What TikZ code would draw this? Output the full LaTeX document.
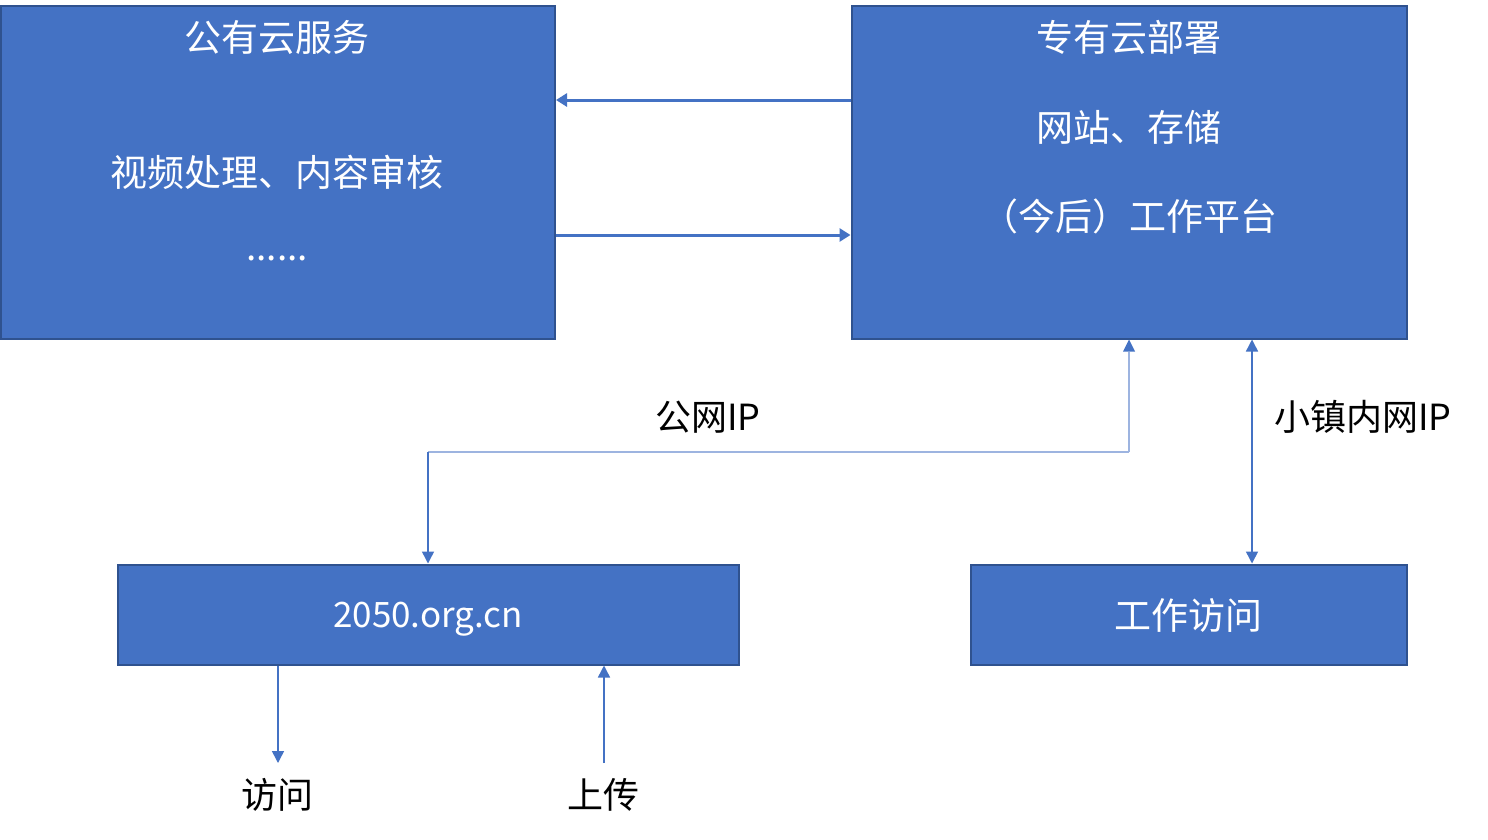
\documentclass[tikz,border=0pt]{standalone}
\usepackage{fontspec}
\setmainfont{Noto Sans CJK SC}
\usetikzlibrary{arrows.meta}
\definecolor{fillblue}{HTML}{4472C4}
\definecolor{edgeblue}{HTML}{2F528F}
\definecolor{lightblue}{HTML}{9DB4E0}
\begin{document}
\begin{tikzpicture}[x=1pt,y=-1pt,
  box/.style={draw=edgeblue, fill=fillblue, line width=2pt, inner sep=0pt},
  boxtext/.style={text=white, font=\fontsize{37}{44}\selectfont, inner sep=0pt},
  lbl/.style={text=black, font=\fontsize{36}{42}\selectfont, inner sep=0pt},
  thick arrow/.style={draw=fillblue, line width=3pt, -{Triangle[length=11pt,width=13pt]}},
  thin arrow/.style={draw=fillblue, line width=1.5pt, -{Triangle[length=12pt,width=12pt]}}
]
\useasboundingbox (0,0) rectangle (1488,839);
\fill[white] (0,0) rectangle (1488,839);

% boxes
\node[box, minimum width=554pt, minimum height=333pt] (A) at (278,172) {};
\node[box, minimum width=555pt, minimum height=333pt] (B) at (1129,172) {};
\node[box, minimum width=621pt, minimum height=100pt] (C) at (428,614.5) {};
\node[box, minimum width=436pt, minimum height=100pt] (D) at (1188.5,614.5) {};

% box texts
\node[boxtext] (At1) at (277,37) {公有云服务};
\node[boxtext] (At2) at (277,172) {视频处理、内容审核};
\node[boxtext] (At3) at (277,258) {......};
\node[boxtext] (Bt1) at (1129,37) {专有云部署};
\node[boxtext] (Bt2) at (1129,127) {网站、存储};
\node[boxtext] (Bt3) at (1129,216) {（今后）工作平台};
\node[boxtext, font=\fontsize{35}{42}\selectfont] (Ct) at (428,619) {2050.org.cn};
\node[boxtext] (Dt) at (1188,616) {工作访问};

% arrows between cloud boxes
\draw[thick arrow] (B.west |- 0,100) -- (A.east |- 0,100);
\draw[thick arrow] (A.east |- 0,235) -- (B.west |- 0,235);

% public IP connector
\coordinate (P1) at (1129,452);
\coordinate (P2) at (428,452);
\draw[draw=lightblue, line width=1.5pt] (P1) -- (P2);
\draw[draw=lightblue, line width=1.5pt] (P1) -- (1129,352);
\draw[draw=fillblue, line width=1.5pt, -{Triangle[length=12pt,width=12pt]}] (P2) -- (P2 |- C.north);
\fill[fillblue] (P1 |- B.south) -- ++(-6,12) -- ++(12,0) -- cycle;
\node[lbl] (L1) at (708,417) {公网IP};

% internal IP connector
\coordinate (Q1) at (1252,452);
\draw[draw=fillblue, line width=1.5pt, {Triangle[length=12pt,width=12pt]}-{Triangle[length=12pt,width=12pt]}] (Q1 |- B.south) -- (Q1 |- D.north);
\node[lbl] (L2) at (1363,417) {小镇内网IP};

% access / upload
\node[lbl] (V) at (277,795) {访问};
\node[lbl] (U) at (603,795) {上传};
\coordinate (Vend) at (278,763);
\coordinate (Ustart) at (604,763);
\draw[thin arrow] (Vend |- C.south) -- (Vend);
\draw[thin arrow] (Ustart) -- (Ustart |- C.south);
\end{tikzpicture}
\end{document}
